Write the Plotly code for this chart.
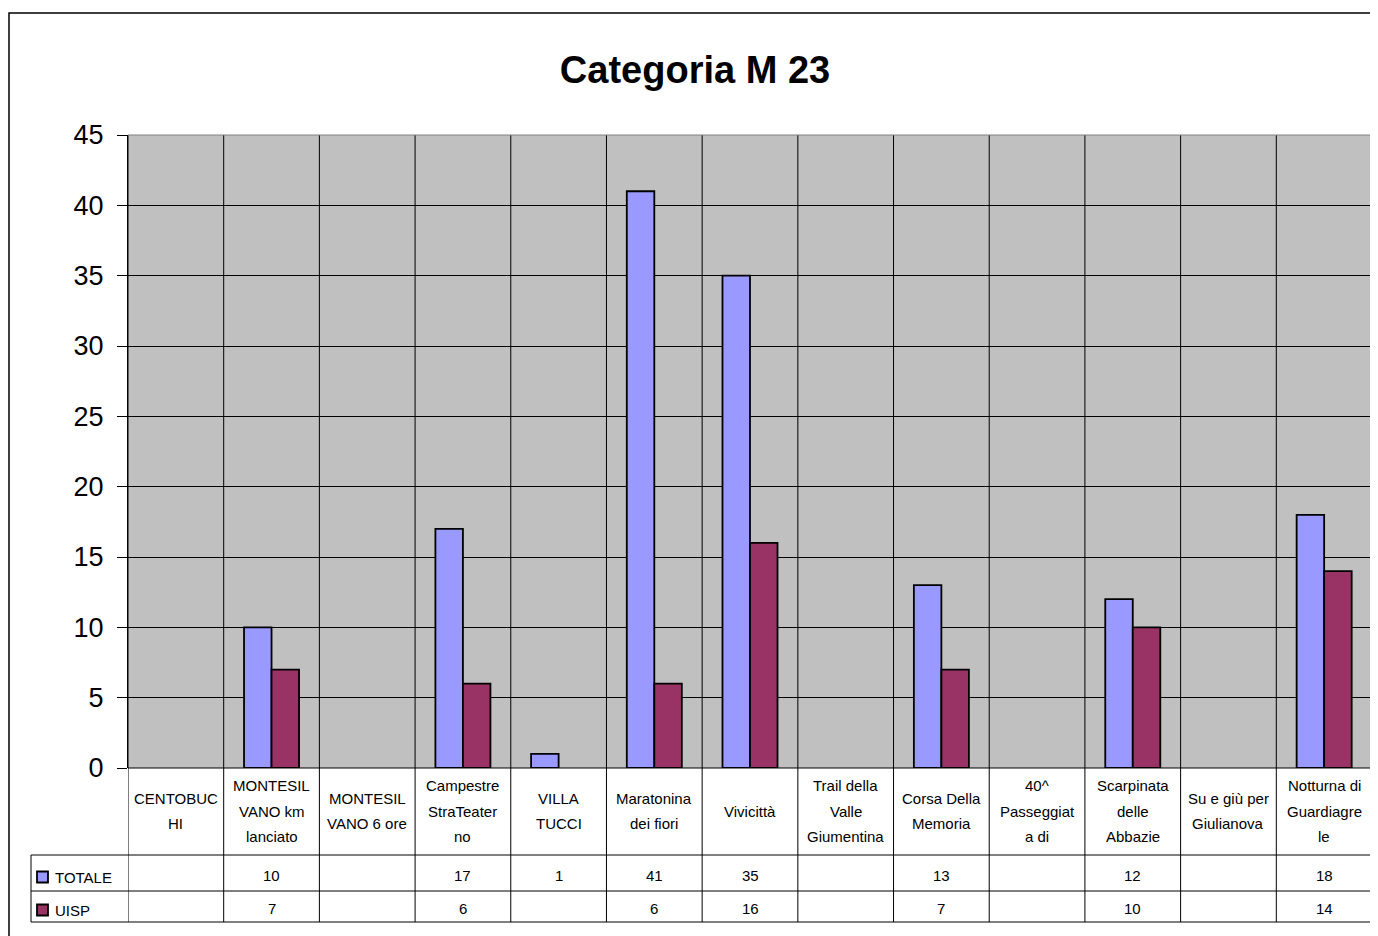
import plotly.graph_objects as go

categories = [
    "CENTOBUC<br>HI",
    "MONTESIL<br>VANO km<br>lanciato",
    "MONTESIL<br>VANO 6 ore",
    "Campestre<br>StraTeater<br>no",
    "VILLA<br>TUCCI",
    "Maratonina<br>dei fiori",
    "Vivicittà",
    "Trail della<br>Valle<br>Giumentina",
    "Corsa Della<br>Memoria",
    "40^<br>Passeggiat<br>a di",
    "Scarpinata<br>delle<br>Abbazie",
    "Su e giù per<br>Giulianova",
    "Notturna di<br>Guardiagre<br>le",
]
totale = [None, 10, None, 17, 1, 41, 35, None, 13, None, 12, None, 18]
uisp = [None, 7, None, 6, None, 6, 16, None, 7, None, 10, None, 14]
series_names = ["TOTALE", "UISP"]
y_ticks = [0, 5, 10, 15, 20, 25, 30, 35, 40, 45]

COL_TOT = "#9999FF"
COL_UISP = "#993366"
FONT = "Liberation Sans, Arial, sans-serif"

# page body margin of the browser (8px) -> figure is 8px smaller
OFF = 8
W, H = 1378 - OFF, 936 - OFF
# plot area in screen pixels: x 128..1372, y 135..768
SX0, SX1, SY0, SY1 = 128, 1372, 135, 768
L, R, T, B = SX0 - OFF, W - (SX1 - OFF), SY0 - OFF, H - (SY1 - OFF)
PW, PH = W - L - R, H - T - B


def px_x(px):
    return (px - OFF - L) / PW


def px_y(py):
    return (SY1 - py) / PH


n = len(categories)
xs = list(range(n))

fig = go.Figure()
for name, vals, col in [(series_names[0], totale, COL_TOT), (series_names[1], uisp, COL_UISP)]:
    fig.add_trace(go.Bar(
        x=xs, y=vals, name=name,
        marker=dict(color=col, line=dict(color="black", width=1.8)),
        showlegend=False,
    ))

shapes = []
y_tab_top = px_y(855)
y_row2 = px_y(891)
y_tab_bot = px_y(922)
for i in range(n + 1):
    shapes.append(dict(type="line", xref="x", yref="paper", x0=i - 0.5, x1=i - 0.5,
                       y0=y_tab_bot, y1=1, line=dict(color="black", width=1), layer="below"))
for yy in [y_tab_top, y_row2, y_tab_bot]:
    shapes.append(dict(type="line", xref="paper", yref="paper", x0=px_x(31), x1=1,
                       y0=yy, y1=yy, line=dict(color="black", width=1)))
shapes.append(dict(type="line", xref="paper", yref="paper", x0=px_x(31), x1=px_x(31),
                   y0=y_tab_bot, y1=y_tab_top, line=dict(color="black", width=1)))
shapes.append(dict(type="line", xref="paper", yref="paper", x0=0, x1=1, y0=0, y1=0,
                   line=dict(color="black", width=1)))
shapes.append(dict(type="line", xref="paper", yref="paper", x0=0, x1=1, y0=1, y1=1,
                   line=dict(color="#808080", width=1)))
# outer chart frame (cropped at right and bottom)
shapes.append(dict(type="rect", xref="paper", yref="paper", x0=px_x(9), x1=px_x(1395),
                   y0=px_y(955), y1=px_y(13), line=dict(color="black", width=1.5)))
for (rowc, col) in [(877, COL_TOT), (910, COL_UISP)]:
    shapes.append(dict(type="rect", xref="paper", yref="paper", x0=px_x(37), x1=px_x(48),
                       y0=px_y(rowc + 5.5), y1=px_y(rowc - 5.5),
                       fillcolor=col, line=dict(color="black", width=1.8)))

annotations = []
LINE_SP = 25.5
for i, lab in enumerate(categories):
    lines = lab.split("<br>")
    k = len(lines)
    for j, ln in enumerate(lines):
        cy = 811 + (j - (k - 1) / 2) * LINE_SP
        annotations.append(dict(x=i, xref="x", y=px_y(cy), yref="paper", text=ln,
                                showarrow=False, xanchor="center", yanchor="middle",
                                font=dict(family=FONT, size=15, color="black")))
for vals, cy in [(totale, 875), (uisp, 908)]:
    for i, v in enumerate(vals):
        if v is not None:
            annotations.append(dict(x=i, xref="x", y=px_y(cy), yref="paper", text=str(v),
                                    showarrow=False, xanchor="center", yanchor="middle",
                                    font=dict(family=FONT, size=15, color="black")))
for name, cy in [(series_names[0], 877), (series_names[1], 910)]:
    annotations.append(dict(x=px_x(53), xref="paper", y=px_y(cy), yref="paper", text=name,
                            showarrow=False, xanchor="left", yanchor="middle",
                            font=dict(family=FONT, size=15, color="black")))

fig.update_layout(
    width=W, height=H,
    margin=dict(l=L, r=R, t=T, b=B, pad=0),
    paper_bgcolor="white",
    plot_bgcolor="#C0C0C0",
    barmode="group",
    bargap=0.425,
    bargroupgap=0,
    title=dict(text="<b>Categoria M 23</b>", x=(695 - OFF) / W, xref="container", xanchor="center",
               y=1 - (70 - OFF) / H, yref="container", yanchor="middle",
               font=dict(family=FONT, size=38, color="black")),
    xaxis=dict(range=[-0.5, n - 0.5], showticklabels=False, showgrid=False, zeroline=False,
               showline=False, ticks=""),
    yaxis=dict(range=[0, 45], tickvals=y_ticks, showgrid=True, gridcolor="black", gridwidth=1,
               zeroline=False, showline=True, linecolor="black", linewidth=1,
               ticks="outside", ticklen=10, tickcolor="black", tickwidth=1,
               tickfont=dict(family=FONT, size=27, color="black"), ticklabelstandoff=8),
    shapes=shapes,
    annotations=annotations,
)

fig.write_html("out.html")
